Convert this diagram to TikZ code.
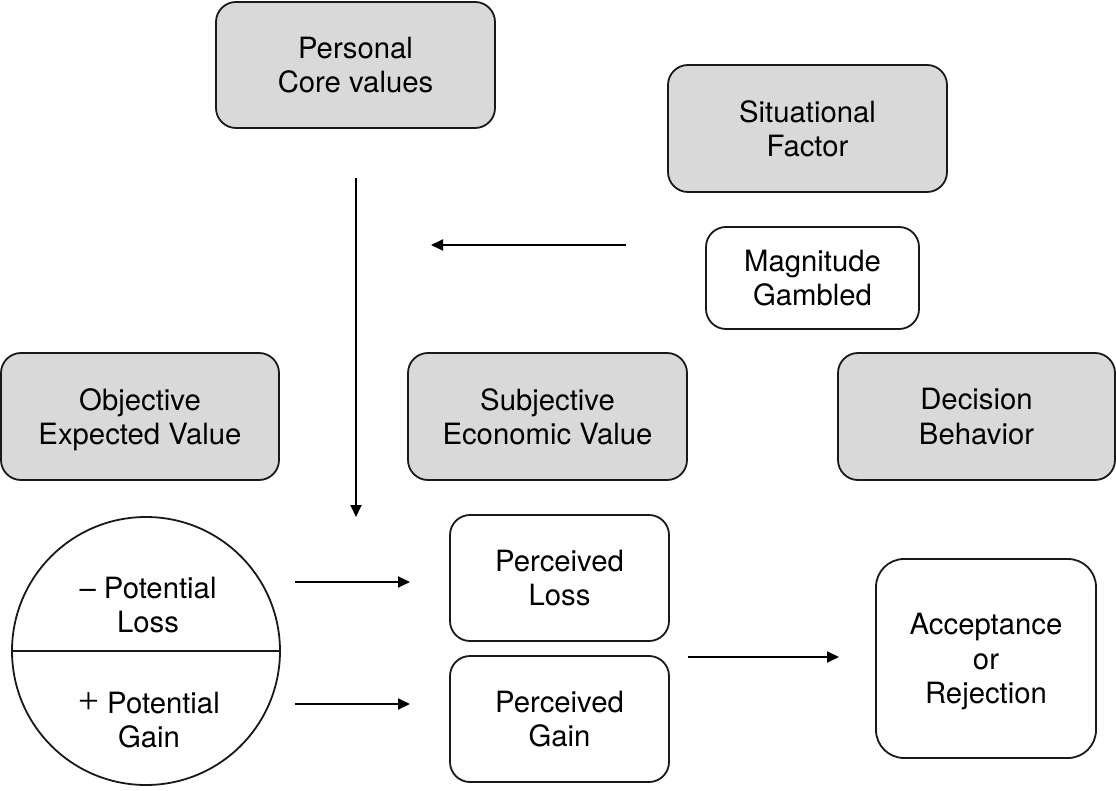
\documentclass[tikz,border=0pt]{standalone}
\usepackage{fontspec}
\setmainfont{TeX Gyre Heros}
\newfontfamily\plusfont{Liberation Serif}
\usetikzlibrary{arrows.meta}
\definecolor{boxgrey}{RGB}{217,217,217}
\tikzset{
  box/.style={draw=black!90, line width=1.8pt, rounded corners=20pt,
    align=center, inner sep=0pt, text depth=0pt, font=\fontsize{29.3}{34.5}\selectfont},
  greybox/.style={box, fill=boxgrey},
  whitebox/.style={box, fill=white},
  label text/.style={align=center, inner sep=0pt, text depth=0pt, font=\fontsize{29.3}{34.5}\selectfont},
  arr/.style={line width=1.8pt, -{Triangle[length=12pt,width=11pt]}}
}
\newcommand{\bigplus}{{\plusfont\fontsize{37}{34.5}\selectfont +}}

\begin{document}
\begin{tikzpicture}[x=1pt,y=-1pt]
\useasboundingbox (0,0) rectangle (1116,791);

% grey boxes
\node[greybox, minimum width=279pt, minimum height=126pt] (core) at (355.5,65) {Personal\\Core values};
\node[greybox, minimum width=279pt, minimum height=127pt] (situ) at (807.5,128.5) {Situational\\Factor};
\node[greybox, minimum width=278pt, minimum height=127pt] (objv) at (140,416.5) {Objective\\Expected Value};
\node[greybox, minimum width=279pt, minimum height=127pt] (subj) at (547.5,416.5) {Subjective\\Economic Value};
\node[greybox, minimum width=277pt, minimum height=127pt] (decb) at (976.5,416.5) {Decision\\Behavior};

% white boxes
\node[whitebox, minimum width=213pt, minimum height=102pt] (magn) at (812.5,278) {Magnitude\\Gambled};
\node[whitebox, minimum width=219pt, minimum height=126pt] (lossbox) at (559.5,578) {Perceived\\Loss};
\node[whitebox, minimum width=219pt, minimum height=126pt] (gainbox) at (559.5,719) {Perceived\\Gain};
\node[whitebox, rounded corners=28pt, minimum width=220pt, minimum height=199pt] (accept) at (986,658.5) {Acceptance\\or\\Rejection};

% circle with its two halves
\node[circle, draw=black!90, line width=1.8pt, minimum size=268pt, inner sep=0pt] (pcirc) at (146,651) {};
\draw[line width=1.8pt, black!90] (pcirc.west) -- (pcirc.east);
\node[label text] (ploss) at (148,605) {-- Potential\\Loss};
\node[label text] (pgain) at (149,720) {\bigplus{} Potential\\Gain};

% free ends of the arrows
\coordinate (vtop) at (356,178);
\coordinate (vend) at (356,517);
\coordinate (htail) at (626,245);
\coordinate (hend) at (431,245);
\coordinate (ltail) at (295,582);
\coordinate (lend) at (410,582);
\coordinate (gtail) at (295,704);
\coordinate (gend) at (410,704);
\coordinate (otail) at (688,657);
\coordinate (oend) at (839,657);

\draw[arr] (vtop) -- (vend);
\draw[arr] (htail) -- (hend);
\draw[arr] (ltail) -- (lend);
\draw[arr] (gtail) -- (gend);
\draw[arr] (otail) -- (oend);
\end{tikzpicture}
\end{document}
